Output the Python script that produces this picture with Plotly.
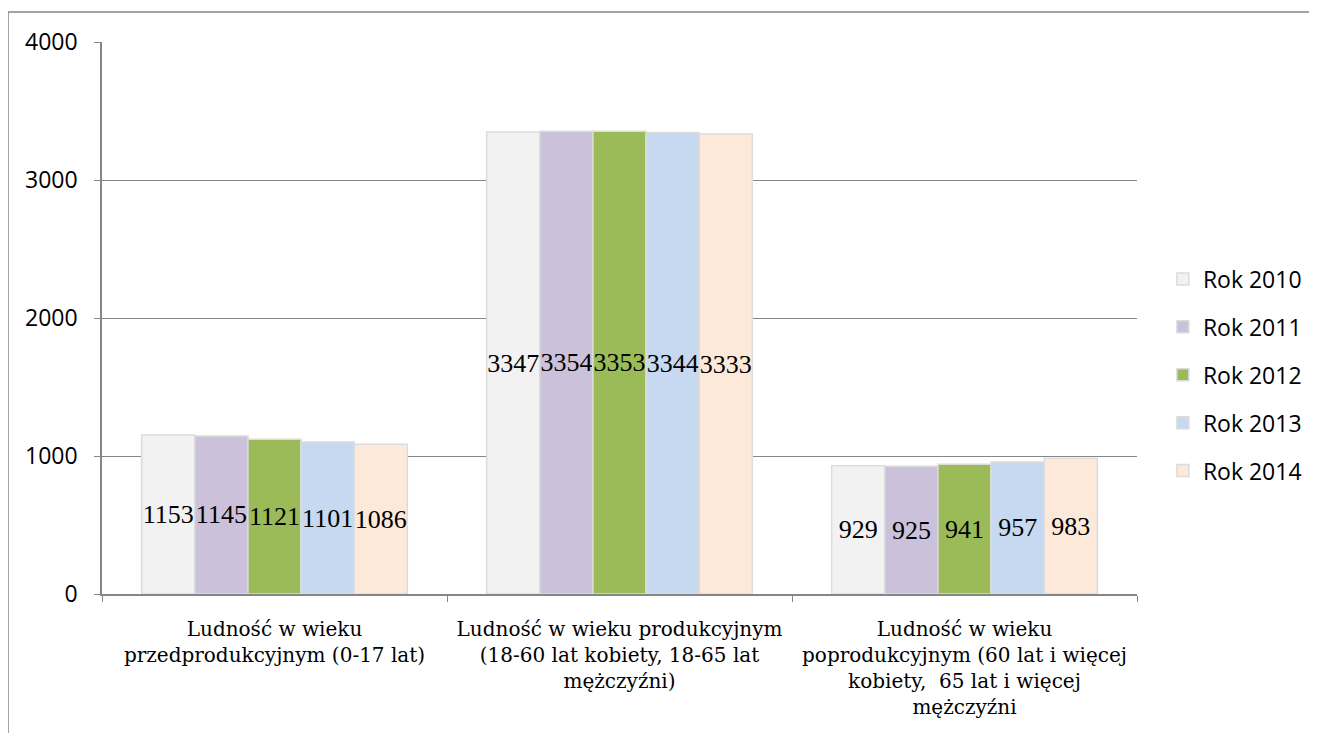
import plotly.graph_objects as go

categories = [
    "Ludność w wieku<br>przedprodukcyjnym (0-17 lat)",
    "Ludność w wieku produkcyjnym<br>(18-60 lat kobiety, 18-65 lat<br>mężczyźni)",
    "Ludność w wieku<br>poprodukcyjnym (60 lat i więcej<br>kobiety,  65 lat i więcej<br>mężczyźni",
]
series_names = ["Rok 2010", "Rok 2011", "Rok 2012", "Rok 2013", "Rok 2014"]
rok_2010 = [1153, 3347, 929]
rok_2011 = [1145, 3354, 925]
rok_2012 = [1121, 3353, 941]
rok_2013 = [1101, 3344, 957]
rok_2014 = [1086, 3333, 983]
series_values = [rok_2010, rok_2011, rok_2012, rok_2013, rok_2014]
colors = ["#F2F2F2", "#CCC1DA", "#9BBB59", "#C6D9F1", "#FDE9D9"]
y_ticks = [0, 1000, 2000, 3000, 4000]

# page body has an 8px margin, so the figure is drawn 8px in from the window
OFF = 8
W, H = 1317 - OFF, 733 - OFF
L, T = 102 - OFF, 42 - OFF
R = W - (1137 - OFF)
B = H - (594 - OFF)
pw, ph = W - L - R, H - T - B

fig = go.Figure()
for i, (name, vals, col) in enumerate(zip(series_names, series_values, colors)):
    fig.add_trace(go.Bar(
        x=categories, y=vals, name=name,
        marker=dict(color=col, line=dict(color="#DCDCDC", width=1.5)),
        text=[str(v) for v in vals], textposition="inside", textangle=0,
        insidetextanchor="middle", constraintext="none",
        textfont=dict(family="Liberation Serif", size=26, color="black"),
        legendgroup=name,
    ))

legend_center_y = 1 - ((375 - OFF) - T) / ph
fig.update_layout(
    width=W, height=H,
    margin=dict(l=L, r=R, t=T, b=B, autoexpand=False),
    paper_bgcolor="white", plot_bgcolor="white",
    barmode="group", bargap=0.23, bargroupgap=0,
    showlegend=True,
    legend=dict(x=1.025, y=legend_center_y, xanchor="left", yanchor="middle",
                font=dict(family="Open Sans", size=23, color="black"),
                tracegroupgap=15, itemwidth=30),
)
fig.update_yaxes(
    range=[0, 4000], tickvals=y_ticks, showgrid=True, gridcolor="#868686", gridwidth=1,
    showline=True, linecolor="#868686", linewidth=1.5,
    ticks="outside", ticklen=6, tickcolor="#868686", ticklabelstandoff=12,
    tickfont=dict(family="Open Sans", size=23, color="black"), zeroline=False,
)
fig.update_xaxes(
    showline=True, linecolor="#868686", linewidth=1.5,
    ticks="outside", ticklen=6, tickcolor="#868686", tickson="boundaries",
    tickfont=dict(family="DejaVu Serif", size=20, color="black"),
    ticklabelstandoff=16,
)

# outer chart border (left and top edges visible)
bx = (8 - OFF - L) / pw
by = 1 + (T - (12 - OFF)) / ph
fig.add_shape(type="path", xref="paper", yref="paper",
              path=f"M {bx} -0.5 L {bx} {by} L 1.5 {by}",
              line=dict(color="#868686", width=1.5))

fig.write_html("out.html")
